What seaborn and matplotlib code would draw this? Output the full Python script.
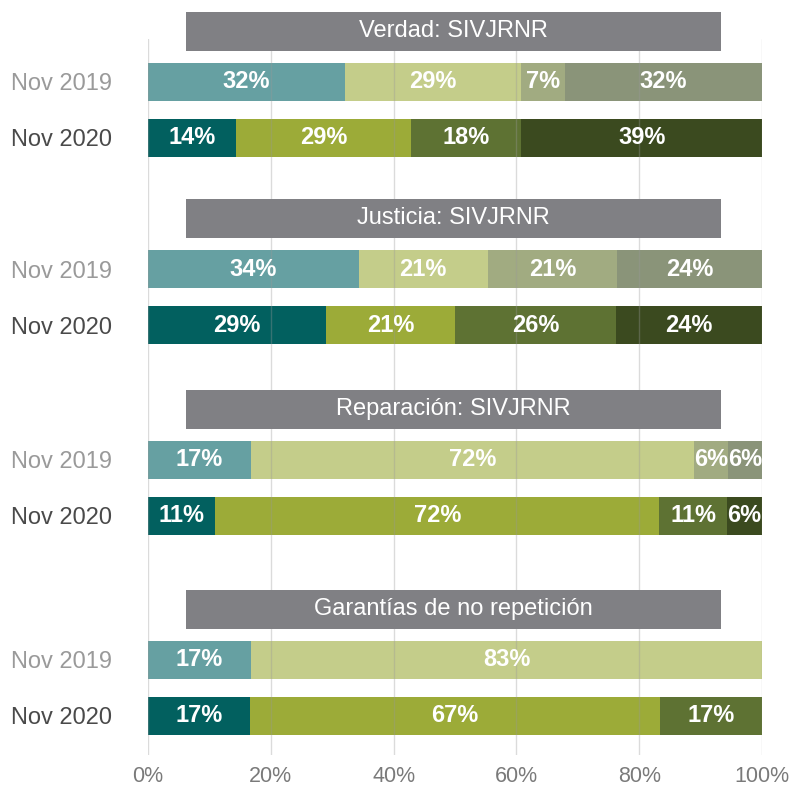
import matplotlib
matplotlib.use("Agg")
import matplotlib.pyplot as plt
import pandas as pd
import seaborn as sns
from matplotlib.patches import Rectangle

# data (percent of respondents per answer)
topics = ["Verdad: SIVJRNR", "Justicia: SIVJRNR", "Reparación: SIVJRNR", "Garantías de no repetición"]
periods = ["Nov 2019", "Nov 2020"]

verdad_2019 = [32.1, 28.6, 7.2, 32.1]
verdad_2020 = [14.3, 28.6, 17.9, 39.2]
justicia_2019 = [34.3, 21.0, 21.1, 23.6]
justicia_2020 = [29.0, 21.0, 26.3, 23.7]
reparacion_2019 = [16.8, 72.1, 5.6, 5.5]
reparacion_2020 = [10.9, 72.4, 11.0, 5.7]
garantias_2019 = [16.8, 83.2]
garantias_2020 = [16.6, 66.8, 16.6]

colors_2019 = ["#66a0a2", "#c4cd8a", "#a1ab81", "#8a9479"]
colors_2020 = ["#02605f", "#9cab38", "#5e7233", "#3b4a1f"]
xticks = [0, 20, 40, 60, 80, 100]

series = [
    [verdad_2019, verdad_2020],
    [justicia_2019, justicia_2020],
    [reparacion_2019, reparacion_2020],
    [garantias_2019, garantias_2020],
]

sns.set_theme(style="white")
plt.rcParams["font.family"] = ["Liberation Sans", "DejaVu Sans"]

# layout in pixel-like units (y axis is inverted)
row_step = 56
group_top = [82, 269, 460, 660]
header_gap = 51

rows = []
for g, pair in enumerate(series):
    for p, vals in enumerate(pair):
        y = group_top[g] + p * row_step
        start = 0
        for k, v in enumerate(vals):
            color = (colors_2019 if p == 0 else colors_2020)[k]
            rows.append({"row": f"{g}-{p}-{k}", "y": y, "seg": k, "value": v,
                         "start": start, "end": start + v, "color": color})
            start += v
df = pd.DataFrame(rows)

fig = plt.figure(figsize=(7.9, 7.9), dpi=100)
ax = fig.add_axes([148 / 790, 1 - 755 / 790, 614 / 790, 716 / 790])

# stacked bars: draw cumulative ends from the last segment to the first
for k in sorted(df["seg"].unique(), reverse=True):
    sub = df[df["seg"] == k]
    sns.barplot(data=sub, x="end", y="y", hue="row",
                palette=dict(zip(sub["row"], sub["color"])),
                orient="h", native_scale=True, dodge=False, saturation=1,
                width=38 / row_step, linewidth=0, errorbar=None,
                legend=False, ax=ax, zorder=2)

for _, r in df.iterrows():
    ax.text(r["start"] + r["value"] / 2, r["y"], f"{r['value']:.0f}%",
            ha="center", va="center", color="white", fontsize=17,
            fontweight="bold", zorder=6)

for x in xticks:
    ax.axvline(x, color="#999999", alpha=0.35, lw=1, zorder=3)

for g, topic in enumerate(topics):
    yc = group_top[g] - header_gap
    ax.add_patch(Rectangle((6.2, yc - 19.5), 87.1, 39, facecolor="#808084",
                           edgecolor="none", zorder=5, clip_on=False))
    ax.text(49.75, yc, topic, ha="center", va="center", color="white",
            fontsize=17, zorder=6, clip_on=False)

ax.set_xlim(0, 100)
ax.set_ylim(755, 39)
ax.set_xticks(xticks)
ax.set_xticklabels([f"{x}%" for x in xticks])
ypos = [group_top[g] + p * row_step for g in range(4) for p in range(2)]
ax.set_yticks(ypos)
ax.set_yticklabels(periods * 4)
for i, lab in enumerate(ax.get_yticklabels()):
    lab.set_color("#9a9a9a" if i % 2 == 0 else "#4a4a4a")
ax.tick_params(axis="y", length=0, pad=26, labelsize=17)
ax.tick_params(axis="x", length=0, pad=8, labelsize=15.5, labelcolor="#7a7a7a")
ax.set_xlabel("")
ax.set_ylabel("")
ax.grid(False)
for s in ax.spines.values():
    s.set_visible(False)

fig.savefig("out.png", dpi=100)
